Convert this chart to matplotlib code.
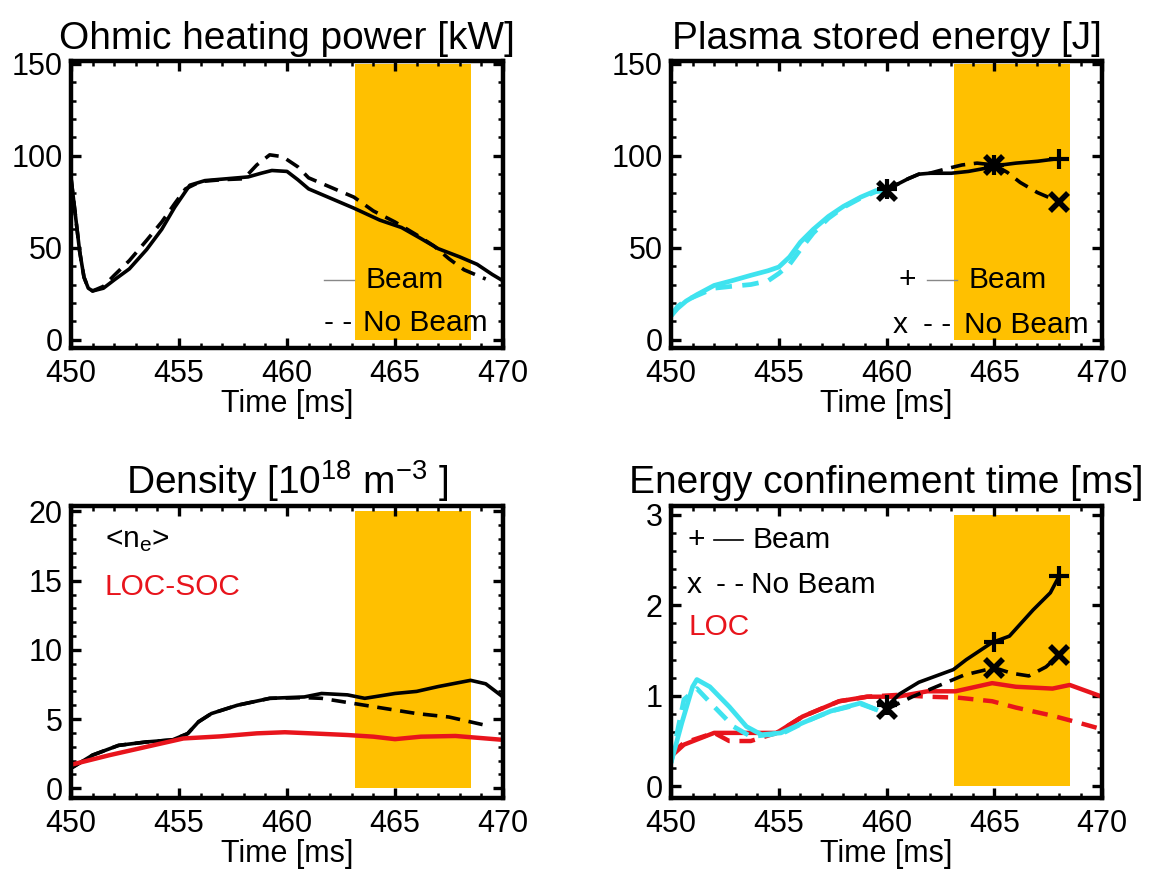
import matplotlib
matplotlib.use("Agg")
import matplotlib.pyplot as plt
from matplotlib.patches import Rectangle
from matplotlib.ticker import MultipleLocator

plt.rcParams['font.family'] = ['Liberation Sans', 'DejaVu Sans']
plt.rcParams['mathtext.fontset'] = 'custom'
plt.rcParams['mathtext.rm'] = 'Liberation Sans'
plt.rcParams['mathtext.default'] = 'regular'

# ---- colours
ORANGE = '#ffc000'
CYAN = '#3fe3ef'
RED = '#e8141c'

# ---- beam window [ms]
band_t = [463.15, 468.5]

# ---- Ohmic heating power [kW]
oh_t_beam = [450.0, 450.2, 450.4, 450.6, 450.8, 451.0, 451.5, 452.0, 452.7, 453.5,
             454.2, 454.8, 455.5, 456.2, 457.2, 458.2, 458.8, 459.3, 460.0, 460.5,
             461.0, 462.0, 463.1, 464.3, 465.3, 466.2, 467.0, 468.0, 468.8, 469.5, 470.0]
oh_p_beam = [88, 68, 48, 34, 28, 26.5, 28, 32.5, 38.5, 49,
             60, 72, 84, 86.5, 87.5, 88.5, 90.5, 92, 91.5, 87,
             82, 77, 71.5, 65, 61, 55, 49.5, 45, 41, 35.5, 32]
oh_t_nobeam = [450.0, 450.2, 450.4, 450.6, 450.8, 451.0, 451.5, 452.0, 452.7, 453.5,
               454.2, 454.8, 455.3, 456.0, 457.0, 458.0, 458.6, 459.2, 459.8, 460.5,
               461.0, 462.0, 463.1, 464.0, 465.0, 466.0, 466.8, 467.5, 468.2, 469.2]
oh_p_nobeam = [88, 68, 48, 34, 28, 26.5, 29, 35, 43, 54,
               64, 74, 82, 86, 87, 87.5, 95, 100.5, 99.5, 94,
               88, 83, 77.5, 70, 64, 57, 51, 44, 38, 33]

# ---- Plasma stored energy [J]
we_t_cyan = [450.0, 450.3, 450.7, 451.2, 452.0, 452.8, 453.7, 454.5, 455.0, 455.5,
             456.0, 456.6, 457.3, 458.0, 458.8, 459.5, 460.0]
we_beam_cyan = [13, 17, 21, 24.5, 29.5, 32, 35, 37.5, 39.5, 45,
                53, 60, 67, 72.5, 77.5, 81, 82]
we_nobeam_cyan = [13, 18, 21.5, 24, 28, 29, 30, 32, 36, 41,
                  49, 58, 66, 72, 77, 80.5, 81]
we_t_beam = [460.0, 460.5, 461.0, 461.5, 462.0, 463.0, 463.8, 464.5, 465.0, 466.0, 467.0, 468.0]
we_beam = [82, 84.5, 87.5, 90, 90.5, 90.5, 91.5, 93, 94.5, 96, 97, 98.5]
we_t_nobeam = [460.0, 460.5, 461.0, 461.5, 462.0, 462.8, 463.5, 464.2, 465.0, 465.6, 466.2, 467.0, 468.0]
we_nobeam = [81, 84.5, 87.5, 90, 90.5, 93, 95, 96, 95, 91, 85.5, 80, 75]
mark_t = [460, 465, 468]
we_mark_beam = [82, 95, 98.5]
we_mark_nobeam = [81, 95, 75]

# ---- Density [1e18 m^-3]
ne_t_beam = [450.0, 451.0, 452.2, 453.5, 454.7, 455.4, 455.9, 456.5, 457.7, 459.2,
             460.8, 461.6, 462.8, 463.6, 465.0, 466.0, 467.0, 468.5, 469.2, 470.0]
ne_beam = [1.45, 2.4, 3.1, 3.35, 3.5, 3.95, 4.8, 5.4, 6.0, 6.5,
           6.6, 6.85, 6.75, 6.5, 6.85, 7.0, 7.35, 7.8, 7.55, 6.6]
ne_t_nobeam = [450.0, 451.0, 452.2, 453.5, 454.7, 455.4, 455.9, 456.5, 457.7, 459.2,
               460.8, 461.6, 463.6, 465.0, 466.0, 467.5, 469.2]
ne_nobeam = [1.45, 2.4, 3.1, 3.35, 3.5, 3.95, 4.8, 5.4, 6.0, 6.5,
             6.55, 6.5, 6.0, 5.65, 5.4, 5.15, 4.55]
loc_t = [450.0, 451.8, 453.5, 455.2, 456.9, 458.6, 459.9, 461.1, 462.8, 464.0,
         465.0, 466.2, 467.8, 470.0]
loc_soc = [1.7, 2.4, 3.0, 3.6, 3.75, 3.97, 4.05, 3.97, 3.85, 3.73,
           3.55, 3.73, 3.78, 3.5]

# ---- Energy confinement time [ms]
tau_t_cyan = [450.0, 450.5, 451.0, 451.2, 451.8, 452.7, 453.5, 454.2, 455.1, 456.1,
              457.4, 458.8, 459.5]
tau_beam_cyan = [0.26, 0.70, 1.10, 1.18, 1.10, 0.88, 0.66, 0.57, 0.59, 0.70,
                 0.83, 0.92, 0.85]
tau_t_cyan_nb = [450.0, 450.6, 451.2, 452.0, 452.9, 453.7, 454.6, 455.3, 456.3,
                 457.4, 458.8, 459.5]
tau_nobeam_cyan = [0.26, 0.96, 1.08, 0.88, 0.66, 0.55, 0.57, 0.60, 0.72,
                   0.83, 0.91, 0.85]
tau_t_beam = [460.0, 460.6, 461.5, 463.1, 463.7, 464.9, 465.7, 466.8, 467.6, 468.0]
tau_beam = [0.88, 1.02, 1.15, 1.29, 1.40, 1.59, 1.66, 1.95, 2.14, 2.32]
tau_t_nobeam = [460.0, 461.2, 462.5, 463.6, 464.3, 465.0, 465.8, 466.6, 467.4, 468.0]
tau_nobeam = [0.85, 0.99, 1.12, 1.23, 1.27, 1.31, 1.25, 1.22, 1.32, 1.45]
tau_mark_beam = [0.90, 1.59, 2.32]
tau_mark_nobeam = [0.85, 1.31, 1.45]
tau_loc_t = [450.0, 450.6, 452.0, 453.7, 454.9, 456.1, 457.8, 459.1, 460.5, 461.9,
             463.2, 464.9, 466.0, 467.7, 468.5, 470.0]
tau_loc = [0.33, 0.46, 0.59, 0.59, 0.59, 0.77, 0.94, 0.99, 0.99, 1.05,
           1.05, 1.14, 1.10, 1.08, 1.12, 0.99]
tau_loc_t_nb = [450.0, 450.6, 452.0, 452.7, 453.7, 454.9, 456.1, 457.8, 459.1, 460.5,
                461.9, 463.3, 464.9, 466.0, 467.7, 468.8, 470.0]
tau_loc_nb = [0.36, 0.48, 0.59, 0.50, 0.50, 0.59, 0.77, 0.94, 0.99, 1.01,
              0.99, 0.98, 0.94, 0.87, 0.78, 0.71, 0.63]

XTICKS = [450, 455, 460, 465, 470]
DASH = (4, 2.4)


def style_axes(ax, ylim, ymajor, yminor):
    ax.set_xlim(450, 470)
    ax.set_ylim(*ylim)
    ax.set_xticks(XTICKS)
    ax.xaxis.set_minor_locator(MultipleLocator(1))
    ax.yaxis.set_major_locator(MultipleLocator(ymajor))
    ax.yaxis.set_minor_locator(MultipleLocator(yminor))
    for sp in ax.spines.values():
        sp.set_linewidth(3.2)
    ax.tick_params(which='both', direction='in', top=True, right=True)
    ax.tick_params(which='major', length=7, width=2.4, labelsize=22)
    ax.tick_params(which='minor', length=3.5, width=1.8)
    ax.tick_params(axis='x', which='major', pad=8)
    ax.tick_params(axis='y', which='major', pad=6)
    ax.set_xlabel('Time [ms]', fontsize=22, labelpad=0)


def add_band(ax, top):
    ax.add_patch(Rectangle((band_t[0], 0), band_t[1] - band_t[0], top,
                           facecolor=ORANGE, edgecolor='none', zorder=0))


fig = plt.figure(figsize=(11.51, 8.77), dpi=100)
ax1 = fig.add_axes([0.0617, 0.6032, 0.3753, 0.3272])
ax2 = fig.add_axes([0.5830, 0.6032, 0.3745, 0.3272])
ax3 = fig.add_axes([0.0617, 0.0901, 0.3753, 0.3330])
ax4 = fig.add_axes([0.5830, 0.0901, 0.3745, 0.3330])

TFS = 28
LFS = 21.5

# --- panel 1
add_band(ax1, 150)
ax1.plot(oh_t_beam, oh_p_beam, color='k', lw=2.6)
ax1.plot(oh_t_nobeam, oh_p_nobeam, color='k', lw=2.6, dashes=DASH)
style_axes(ax1, (-4.5, 151.5), 50, 10)
ax1.set_title('Ohmic heating power [kW]', fontsize=TFS, pad=9)
ax1.plot([0.585, 0.656], [0.237, 0.237], transform=ax1.transAxes, color='#888888', lw=1)
ax1.text(0.681, 0.237, 'Beam', transform=ax1.transAxes, fontsize=LFS, va='center')
ax1.text(0.585, 0.087, '- -', transform=ax1.transAxes, fontsize=LFS, va='center')
ax1.text(0.676, 0.087, 'No Beam', transform=ax1.transAxes, fontsize=LFS, va='center')

# --- panel 2
add_band(ax2, 150)
ax2.plot(we_t_cyan, we_beam_cyan, color=CYAN, lw=3.4)
ax2.plot(we_t_cyan, we_nobeam_cyan, color=CYAN, lw=3.4, dashes=(3.5, 2.2))
ax2.plot(we_t_beam, we_beam, color='k', lw=2.6)
ax2.plot(we_t_nobeam, we_nobeam, color='k', lw=2.6, dashes=DASH)
ax2.plot(mark_t, we_mark_beam, ls='none', marker='+', ms=14, mew=3, color='k')
ax2.plot(mark_t, we_mark_nobeam, ls='none', marker='x', ms=13, mew=4, color='k')
style_axes(ax2, (-4.5, 151.5), 50, 10)
ax2.set_title('Plasma stored energy [J]', fontsize=TFS, pad=9)
ax2.text(0.548, 0.237, '+', transform=ax2.transAxes, fontsize=LFS, va='center', ha='center')
ax2.plot([0.594, 0.663], [0.237, 0.237], transform=ax2.transAxes, color='#888888', lw=1)
ax2.text(0.689, 0.237, 'Beam', transform=ax2.transAxes, fontsize=LFS, va='center')
ax2.text(0.531, 0.080, 'x', transform=ax2.transAxes, fontsize=LFS, va='center', ha='center')
ax2.text(0.585, 0.080, '- -', transform=ax2.transAxes, fontsize=LFS, va='center')
ax2.text(0.679, 0.080, 'No Beam', transform=ax2.transAxes, fontsize=LFS, va='center')

# --- panel 3
add_band(ax3, 20)
ax3.plot(ne_t_beam, ne_beam, color='k', lw=2.6)
ax3.plot(ne_t_nobeam, ne_nobeam, color='k', lw=2.6, dashes=DASH)
ax3.plot(loc_t, loc_soc, color=RED, lw=3.2)
style_axes(ax3, (-0.7, 20.4), 5, 1)
ax3.set_title('Density [10$^{18}$ m$^{-3}$ ]', fontsize=TFS, pad=9)
ax3.text(0.078, 0.884, '<n$_e$>', transform=ax3.transAxes, fontsize=LFS, va='center')
ax3.text(0.078, 0.723, 'LOC-SOC', transform=ax3.transAxes, fontsize=LFS, va='center',
         color=RED)

# --- panel 4
add_band(ax4, 3)
ax4.plot(tau_loc_t, tau_loc, color=RED, lw=3.2)
ax4.plot(tau_loc_t_nb, tau_loc_nb, color=RED, lw=3.2, dashes=(3.5, 2.2))
ax4.plot(tau_t_cyan, tau_beam_cyan, color=CYAN, lw=3.4)
ax4.plot(tau_t_cyan_nb, tau_nobeam_cyan, color=CYAN, lw=3.4, dashes=(3.5, 2.2))
ax4.plot(tau_t_beam, tau_beam, color='k', lw=2.6)
ax4.plot(tau_t_nobeam, tau_nobeam, color='k', lw=2.6, dashes=DASH)
ax4.plot(mark_t, tau_mark_beam, ls='none', marker='+', ms=14, mew=3, color='k')
ax4.plot(mark_t, tau_mark_nobeam, ls='none', marker='x', ms=13, mew=4, color='k')
style_axes(ax4, (-0.13, 3.1), 1, 0.2)
ax4.set_title('Energy confinement time [ms]', fontsize=TFS, pad=9)
ax4.text(0.059, 0.884, '+', transform=ax4.transAxes, fontsize=LFS, va='center', ha='center')
ax4.plot([0.10, 0.166], [0.884, 0.884], transform=ax4.transAxes, color='k', lw=1.2)
ax4.text(0.19, 0.884, 'Beam', transform=ax4.transAxes, fontsize=LFS, va='center')
ax4.text(0.054, 0.73, 'x', transform=ax4.transAxes, fontsize=LFS, va='center', ha='center')
ax4.text(0.105, 0.73, '- -', transform=ax4.transAxes, fontsize=LFS, va='center')
ax4.text(0.186, 0.73, 'No Beam', transform=ax4.transAxes, fontsize=LFS, va='center')
ax4.text(0.041, 0.586, 'LOC', transform=ax4.transAxes, fontsize=LFS, va='center', color=RED)

fig.savefig('out.png', dpi=100)
